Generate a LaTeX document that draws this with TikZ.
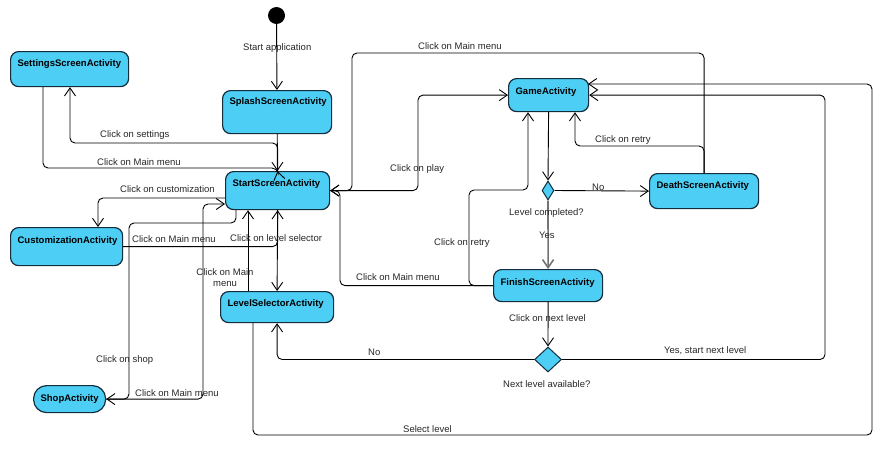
\documentclass[tikz,border=0pt]{standalone}
\usepackage{fontspec}
\setmainfont{Liberation Sans}
\usetikzlibrary{arrows.meta,shapes.geometric}
\definecolor{actfill}{RGB}{77,206,245}
\definecolor{actline}{RGB}{20,45,60}

\begin{document}
\begin{tikzpicture}[x=1pt,y=-1pt,
  act/.style={draw=actline, fill=actfill, line width=1.2pt, rounded corners=8pt,
    anchor=north west, inner xsep=7pt, inner ysep=0pt, align=left,
    font=\fontsize{9.5}{11}\selectfont\bfseries},
  decision/.style={diamond, draw=actline, fill=actfill, line width=1pt, inner sep=0pt},
  startdot/.style={circle, fill=black, minimum size=17pt, inner sep=0pt},
  flow/.style={draw=black, line width=0.9pt, rounded corners=5pt,
    -{Straight Barb[length=8pt,width=11pt]}},
  lbl/.style={anchor=mid west, inner sep=0pt, font=\fontsize{9.5}{11}\selectfont, text=black!85}]

\useasboundingbox (0,0) rectangle (896,458);

% states
\node[startdot] (init) at (276.5,15.5) {};
\node[act, text width=104pt, text height=14.4pt, text depth=20.6pt] (settings) at (10,51) {SettingsScreenActivity};
\node[act, text width=95pt, text height=13.4pt, text depth=29.6pt] (splash) at (222,90) {SplashScreenActivity};
\node[act, text width=90pt, text height=14.4pt, text depth=23.6pt] (start) at (225,171) {StartScreenActivity};
\node[act, text width=98pt, text height=15.4pt, text depth=22.6pt] (cust) at (10,227) {CustomizationActivity};
\node[act, text width=99pt, text height=14.4pt, text depth=16.6pt] (lvl) at (220,291) {LevelSelectorActivity};
\node[act, rounded corners=13pt, text width=58pt, text height=15.4pt, text depth=11.6pt] (shop) at (33,385) {ShopActivity};
\node[act, text width=66pt, text height=15.4pt, text depth=17.6pt] (game) at (508,78) {GameActivity};
\node[act, text width=95pt, text height=14.4pt, text depth=20.6pt] (death) at (649,173) {DeathScreenActivity};
\node[act, text width=95pt, text height=15.4pt, text depth=16.6pt] (finish) at (493,269) {FinishScreenActivity};
\node[decision, minimum width=12pt, minimum height=19pt] (d1) at (548,190.5) {};
\node[decision, minimum width=27pt, minimum height=25pt] (d2) at (548,359.5) {};

% bend points
\coordinate (cset) at (70,143);
\coordinate (csm) at (43,168);
\coordinate (ccu) at (98,198);
\coordinate (clm) at (248,0);
\coordinate (csha) at (236,0);
\coordinate (cshb) at (129,223);
\coordinate (cshm) at (203,204);
\coordinate (cplay) at (418,0);
\coordinate (ctop) at (352,53);
\coordinate (cretry) at (575,146);
\coordinate (cfr) at (469,190);
\coordinate (cfrg) at (528,0);
\coordinate (cfm) at (340,0);
\coordinate (cyes) at (825,0);
\coordinate (csel) at (253,0);
\coordinate (cselb) at (872,435);
\coordinate (gtop) at (588,84);

% transitions
\draw[flow] (init) -- (splash);
\draw[flow] (splash) -- (start);
\draw[flow] (start.north) |- (cset) -- (settings.south -| cset);
\draw[flow] (settings.south -| csm) -- (csm) -- (277,168) [rounded corners=2pt] -- (start.north);
\draw[flow] (start.west |- ccu) -| (cust.north -| ccu);
\draw[flow] (cust.east) -| (start.south);
\draw[flow] (start.south) -- (lvl.north);
\draw[flow] (lvl.north -| clm) -- (start.south -| clm);
\draw[flow] (start.south -| csha) |- (cshb) |- (shop.east);
\draw[flow] (shop.east) -| (cshm) -- (start.west |- cshm);
\draw[flow] (start.east) -| (game.west -| cplay) -- (game.west);
\draw[flow] (death.north) |- (ctop) |- (start.east);
\draw[flow] (death.north) |- (cretry) -- (game.south -| cretry);
\draw[flow] (game.south) -- (d1.north);
\draw[flow] (d1.east) -- (death.west);
\draw[flow, draw=black!55, line width=1.6pt] (d1.south) -- (finish.north);
\draw[flow] (finish.west) -| (cfr) -| (game.south -| cfrg);
\draw[flow] (finish.west) -| (start.east -| cfm) -- (start.east);
\draw[flow] (finish.south) -- (d2.north);
\draw[flow] (d2.west) -| (lvl.south);
\draw[flow] (d2.east) -| (game.east -| cyes) -- (game.east);
\draw[flow] (lvl.south -| csel) |- (cselb) |- (gtop);

% transition labels
\node[lbl] (tstart) at (243,48) {Start application};
\node[lbl] (tset) at (100,135) {Click on settings};
\node[lbl] (tsetm) at (97,163) {Click on Main menu};
\node[lbl] (tcus) at (120,190) {Click on customization};
\node[lbl] (tcusm) at (132,240) {Click on Main menu};
\node[lbl] (tlvl) at (230,239) {Click on level selector};
\node[lbl, anchor=center, align=center] (tlvlm) at (225,278) {Click on Main\\menu};
\node[lbl] (tshop) at (96,360) {Click on shop};
\node[lbl] (tshopm) at (135,394) {Click on Main menu};
\node[lbl] (ttop) at (418,47) {Click on Main menu};
\node[lbl] (tplay) at (390,169) {Click on play};
\node[lbl] (tdr) at (595,140) {Click on retry};
\node[lbl] (tno1) at (592,188) {No};
\node[lbl] (tq1) at (509,213) {Level completed?};
\node[lbl] (tyes) at (539,236) {Yes};
\node[lbl] (tfr) at (434,243) {Click on retry};
\node[lbl] (tfm) at (356,278) {Click on Main menu};
\node[lbl] (tnext) at (509,319) {Click on next level};
\node[lbl] (tno2) at (368,353) {No};
\node[lbl] (tq2) at (503,385) {Next level available?};
\node[lbl] (tyes2) at (664,351) {Yes, start next level};
\node[lbl] (tsel) at (403,430) {Select level};
\end{tikzpicture}
\end{document}
